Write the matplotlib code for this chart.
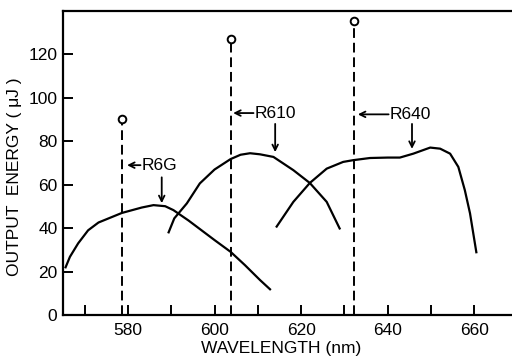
import matplotlib
matplotlib.use("Agg")
import matplotlib.pyplot as plt

plt.rcParams['font.family'] = ['Liberation Sans', 'DejaVu Sans']

# R6G curve
r6g_wl = [565.5, 566.6, 568.5, 570.8, 573.2, 578.6, 583.2, 585.9, 588.6, 590.5,
          594.0, 597.0, 600.0, 603.7, 607.0, 610.5, 613.0]
r6g_e = [21.5, 26.8, 33.0, 39.0, 42.6, 47.0, 49.5, 50.6, 50.1, 48.3,
         43.5, 39.0, 34.5, 29.1, 23.0, 16.1, 11.5]

# R610 curve
r610_wl = [589.3, 590.7, 593.6, 596.6, 600.0, 603.7, 606.0, 608.2, 610.5,
           613.6, 618.2, 622.0, 625.9, 629.0]
r610_e = [37.6, 44.5, 51.4, 60.6, 67.0, 71.8, 73.8, 74.5, 74.0,
          72.8, 66.7, 60.8, 52.1, 39.4]

# R640 curve
r640_wl = [614.2, 618.2, 622.0, 625.9, 629.7, 632.0, 635.9, 640.0, 642.8,
           645.9, 649.8, 652.1, 654.4, 656.3, 657.8, 659.0, 660.5]
r640_e = [40.3, 52.1, 60.8, 67.4, 70.5, 71.3, 72.3, 72.5, 72.5,
          74.3, 77.1, 76.6, 74.3, 68.2, 57.5, 46.8, 28.4]

# Dashed lines (peak wavelength, energy)
dye_names = ['R6G', 'R610', 'R640']
dash_wl = [578.6, 603.7, 632.2]
dash_e = [90.4, 126.9, 135.3]

# Labels: text position, horizontal arrow tip, vertical arrow
label_xy = [(583.2, 69.0), (609.3, 93.0), (640.5, 92.4)]
harrow_tip = [579.8, 604.3, 633.1]
varrow_x = [587.8, 614.0, 645.6]
varrow_top = [63.4, 88.0, 88.0]
varrow_tip = [51.5, 75.0, 76.5]

xticks_major = [580, 600, 620, 640, 660]
xticks_minor = [570, 590, 610, 630, 650]
yticks = [0, 20, 40, 60, 80, 100, 120]

fig = plt.figure(figsize=(5.12, 3.58), dpi=100)
ax = fig.add_axes([63/512, 43/358, 449/512, 304/358])

lw = 1.6
ax.plot(r6g_wl, r6g_e, color='black', lw=lw, solid_capstyle='butt')
ax.plot(r610_wl, r610_e, color='black', lw=lw, solid_capstyle='butt')
ax.plot(r640_wl, r640_e, color='black', lw=lw, solid_capstyle='butt')

for wl, e in zip(dash_wl, dash_e):
    ax.plot([wl, wl], [0, e - 2.0], color='black', lw=1.4, linestyle=(0, (5, 2.5)))
    ax.plot([wl], [e], marker='o', ms=5.5, mfc='white', mec='black', mew=1.4, clip_on=False)

for name, (tx, ty), htip, vx, vtop, vtip in zip(dye_names, label_xy, harrow_tip,
                                                varrow_x, varrow_top, varrow_tip):
    ax.text(tx, ty, name, fontsize=12.5, ha='left', va='center')
    ax.annotate('', xy=(htip, ty), xytext=(tx - 0.3, ty),
                arrowprops=dict(arrowstyle='->', lw=1.3, color='black',
                                shrinkA=0, shrinkB=0, mutation_scale=10))
    ax.annotate('', xy=(vx, vtip), xytext=(vx, vtop),
                arrowprops=dict(arrowstyle='->', lw=1.3, color='black',
                                shrinkA=0, shrinkB=0, mutation_scale=10))

ax.set_xlim(565, 565 + 449/4.33)
ax.set_ylim(0, 140)
ax.set_xticks(xticks_major)
ax.set_xticks(xticks_minor, minor=True)
ax.set_yticks(yticks)
ax.tick_params(axis='both', which='both', direction='in', width=1.4, length=7,
               labelsize=12.5, color='black')
ax.tick_params(axis='x', which='both', pad=6, top=False)
ax.tick_params(axis='y', pad=4, right=False)

for s in ['left', 'bottom', 'top']:
    ax.spines[s].set_linewidth(1.6)
ax.spines['right'].set_visible(False)

fig.text(281/512, 1 - 349/358, 'WAVELENGTH (nm)', fontsize=12.5, ha='center', va='center')
fig.text(15/512, 1 - 177/358, 'OUTPUT  ENERGY ( μJ )', fontsize=12.5, rotation=90,
         ha='center', va='center')

fig.savefig('out.png', dpi=100)
